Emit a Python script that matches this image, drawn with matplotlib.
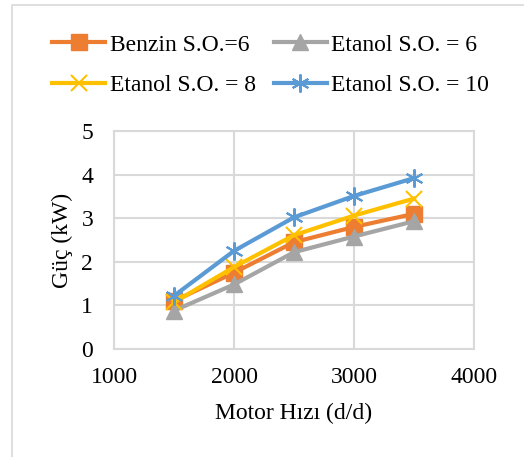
import matplotlib.pyplot as plt
from matplotlib.patches import Rectangle

plt.rcParams['font.family'] = ['Liberation Serif', 'DejaVu Serif']

# data
speed = [1500, 2000, 2500, 3000, 3500]
benzin_6 = [1.10, 1.75, 2.45, 2.80, 3.10]
etanol_6 = [0.88, 1.48, 2.22, 2.58, 2.93]
etanol_8 = [1.07, 1.88, 2.61, 3.06, 3.45]
etanol_10 = [1.22, 2.25, 3.02, 3.51, 3.92]

fs = 17
fig = plt.figure(figsize=(5.24, 4.57), dpi=100)
W, H = 524, 457
ax = fig.add_axes([114 / W, 1 - 349 / H, (474 - 114) / W, (349 - 131) / H])

# chart border, open on the right and bottom
fig.patches.append(Rectangle((12 / W, -0.1), 1.2, 1 - 5 / H + 0.1, transform=fig.transFigure,
                             fill=False, edgecolor='#d9d9d9', linewidth=1.2))

lw = 3
l1, = ax.plot(speed, benzin_6, color='#ED7D31', lw=lw, marker='s', ms=11, label='Benzin S.O.=6')
l2, = ax.plot(speed, etanol_6, color='#A5A5A5', lw=lw, marker='^', ms=12, label='Etanol S.O. = 6')
l3, = ax.plot(speed, etanol_8, color='#FFC000', lw=lw, marker='x', ms=11, mew=1.5, label='Etanol S.O. = 8')
l4, = ax.plot(speed, etanol_10, color='#5B9BD5', lw=lw, marker=(6, 2, 0), ms=13, mew=1.5, label='Etanol S.O. = 10')

ax.set_xlim(1000, 4000)
ax.set_ylim(0, 5)
ax.set_xticks([1000, 2000, 3000, 4000])
ax.set_yticks([0, 1, 2, 3, 4, 5])
ax.grid(True, color='#d9d9d9', lw=1.5)
ax.set_axisbelow(True)
for s in ax.spines.values():
    s.set_color('#d9d9d9')
    s.set_linewidth(1.5)
ax.tick_params(length=0, labelsize=fs)
ax.tick_params(axis='x', pad=13)
ax.tick_params(axis='y', pad=15)

ax.set_xlabel('Motor Hızı (d/d)', fontsize=fs, labelpad=11)
ax.set_ylabel('Güç (kW)', fontsize=fs, labelpad=6)

# legend rows: Benzin / Etanol 6 on top, Etanol 8 / Etanol 10 below
fig.legend(handles=[l1, l3, l2, l4], loc='upper left', bbox_to_anchor=(52 / W, 1 - 34 / H),
           ncol=2, frameon=False, fontsize=fs, handlelength=2.25, handletextpad=0.2,
           columnspacing=0.75, labelspacing=0.8, borderpad=0, borderaxespad=0)

fig.savefig('out.png', dpi=100)
